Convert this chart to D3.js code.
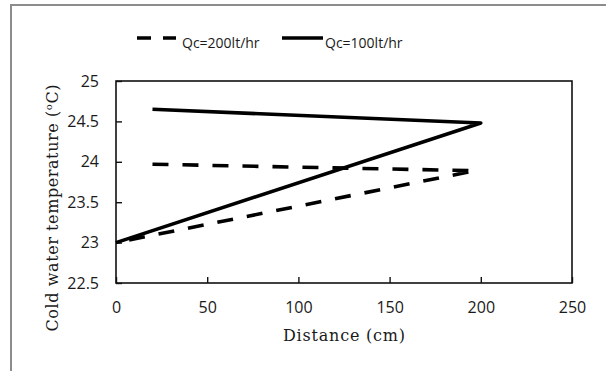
<!DOCTYPE html>
<html lang="en">
<head>
<meta charset="UTF-8">
<title>Cold water temperature vs distance</title>
<script src="https://d3js.org/d3.v7.min.js"></script>
<style>
    body { margin: 0; background: #fff; }
    .tick-label { font: 16px "Open Sans", sans-serif; fill: #1a1a1a; }
    .axis-title { font: 16px "DejaVu Serif", serif; fill: #1a1a1a; }
    .legend-text { font: 14px "Open Sans", sans-serif; fill: #1a1a1a; }
    .series { fill: none; stroke: #000; stroke-width: 3.6; }
</style>
</head>
<body>
<svg id="chart"></svg>
<script>
// data
var seriesNames = ["Qc=200lt/hr", "Qc=100lt/hr"];
var distance200 = [20, 197, 0];
var temp200 = [23.97, 23.89, 23.0];
var distance100 = [20, 200, 0];
var temp100 = [24.65, 24.48, 23.0];
var xTicks = [0, 50, 100, 150, 200, 250];
var yTicks = [22.5, 23, 23.5, 24, 24.5, 25];

var svgWidth = 606, svgHeight = 371;
var plot = { left: 116, top: 81, right: 572, bottom: 283 };

var svg = d3.select("#chart")
    .attr("width", svgWidth)
    .attr("height", svgHeight);

// outer chart-area border (only top and left show)
svg.append("path")
    .attr("d", "M11,371 V5 H606")
    .attr("fill", "none")
    .attr("stroke", "#8c8c8c")
    .attr("stroke-width", 2);

var xs = d3.scaleLinear().domain([0, 250]).range([plot.left, plot.right]);
var ys = d3.scaleLinear().domain([22.5, 25]).range([plot.bottom, plot.top]);

// plot frame
svg.append("rect")
    .attr("x", plot.left)
    .attr("y", plot.top)
    .attr("width", plot.right - plot.left)
    .attr("height", plot.bottom - plot.top)
    .attr("fill", "none")
    .attr("stroke", "#111")
    .attr("stroke-width", 1.6);

// axes with inside ticks
var xAxis = svg.append("g")
    .attr("transform", "translate(0," + plot.bottom + ")")
    .call(d3.axisBottom(xs).tickValues(xTicks).tickSizeInner(-6).tickSizeOuter(0).tickPadding(19));
var yAxis = svg.append("g")
    .attr("transform", "translate(" + plot.left + ",0)")
    .call(d3.axisLeft(ys).tickValues(yTicks).tickFormat(d3.format("~g")).tickSizeInner(-6).tickSizeOuter(0).tickPadding(17));

[xAxis, yAxis].forEach(function(ax) {
    ax.select(".domain").remove();
    ax.selectAll(".tick line").attr("stroke", "#111").attr("stroke-width", 1.4);
    ax.selectAll(".tick text").attr("class", "tick-label").attr("fill", null);
});

// series
var line = d3.line()
    .x(function(d) { return xs(d[0]); })
    .y(function(d) { return ys(d[1]); });

svg.append("path")
    .datum(d3.zip(distance200, temp200))
    .attr("class", "series")
    .attr("stroke-dasharray", "16,14")
    .attr("d", line);

svg.append("path")
    .datum(d3.zip(distance100, temp100))
    .attr("class", "series")
    .attr("stroke-linejoin", "round")
    .attr("d", line);

// axis titles (wide serif in the original, so stretch the spacing)
svg.append("text")
    .attr("class", "axis-title")
    .attr("x", 344)
    .attr("y", 341)
    .attr("text-anchor", "middle")
    .attr("textLength", 122)
    .attr("lengthAdjust", "spacing")
    .text("Distance (cm)");

var yTitle = svg.append("text")
    .attr("class", "axis-title")
    .attr("transform", "translate(58,208) rotate(-90)")
    .attr("text-anchor", "middle")
    .attr("textLength", 247)
    .attr("lengthAdjust", "spacing");
yTitle.append("tspan").text("Cold water temperature (");
yTitle.append("tspan").attr("font-size", "10px").attr("dy", -6).text("o");
yTitle.append("tspan").attr("dy", 6).text("C)");

// legend
var legend = svg.append("g");
legend.append("line")
    .attr("x1", 137).attr("x2", 176).attr("y1", 38).attr("y2", 38)
    .attr("stroke", "#000").attr("stroke-width", 3.6)
    .attr("stroke-dasharray", "14,12");
legend.append("text")
    .attr("class", "legend-text")
    .attr("x", 182).attr("y", 48)
    .text(seriesNames[0]);
legend.append("line")
    .attr("x1", 282).attr("x2", 323).attr("y1", 38).attr("y2", 38)
    .attr("stroke", "#000").attr("stroke-width", 3.6);
legend.append("text")
    .attr("class", "legend-text")
    .attr("x", 325).attr("y", 48)
    .text(seriesNames[1]);
</script>
</body>
</html>
